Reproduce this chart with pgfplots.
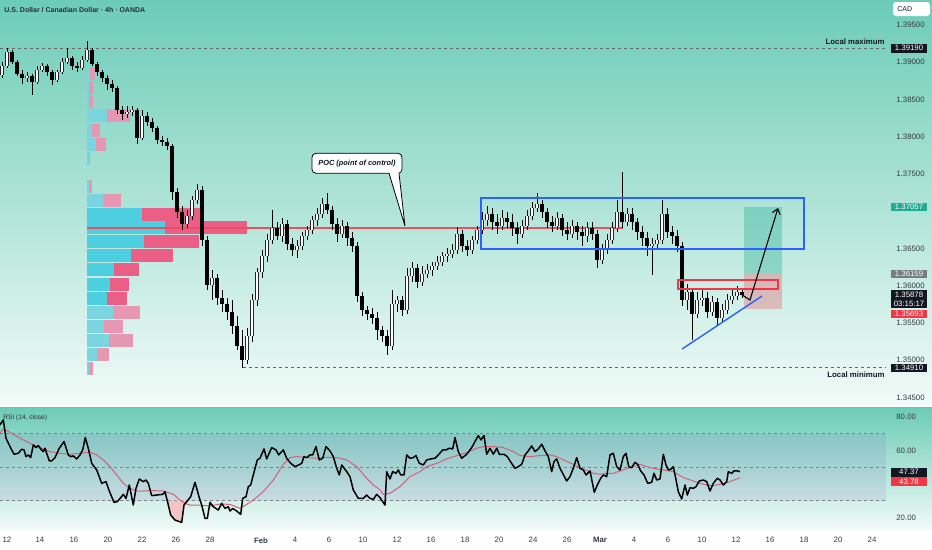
\documentclass[border=0pt]{standalone}
\usepackage{fontspec}
\setmainfont{Liberation Sans}
\usepackage{pgfplots}
\pgfplotsset{compat=1.18}
\usepackage{pgfplotstable}
\usetikzlibrary{arrows.meta}

\definecolor{bgTop}{RGB}{108,204,183}
\definecolor{bgBot}{RGB}{242,251,248}
\definecolor{cyanS}{RGB}{77,207,224}
\definecolor{pinkS}{RGB}{235,95,135}
\definecolor{cyanL}{RGB}{122,213,224}
\definecolor{pinkL}{RGB}{230,152,178}
\definecolor{pocRed}{RGB}{232,80,96}
\definecolor{tvBlue}{RGB}{41,98,255}
\definecolor{tvRed}{RGB}{242,54,69}
\definecolor{tvGreen}{RGB}{34,171,148}
\definecolor{tvGrey}{RGB}{120,123,134}
\definecolor{tvBlack}{RGB}{19,23,34}
\definecolor{maPink}{RGB}{214,96,120}
\definecolor{rsiBand}{RGB}{126,87,194}

\newcommand{\fs}{\fontsize{3.9}{4.5}\selectfont}
\pgfplotsset{nomark/.style={only marks, mark=text, text mark={}}}

% 4h USD/CAD candles: x = horizontal position of the candle, o h l c = prices
\pgfplotstableread{
x o h l c
2 1.38829 1.39004 1.38789 1.38950
7 1.38950 1.39192 1.38924 1.39138
12 1.39138 1.39165 1.38977 1.39004
17 1.39004 1.39031 1.38815 1.38842
22 1.38842 1.38896 1.38708 1.38789
27 1.38789 1.38869 1.38735 1.38815
32 1.38815 1.38842 1.38561 1.38735
37 1.38735 1.38950 1.38708 1.38896
42 1.38896 1.38991 1.38869 1.38950
47 1.38950 1.38977 1.38815 1.38869
52 1.38869 1.38896 1.38695 1.38762
57 1.38762 1.38896 1.38735 1.38869
62 1.38869 1.39058 1.38842 1.39004
67 1.39004 1.39192 1.38977 1.39058
72 1.39058 1.39084 1.38896 1.38950
77 1.38950 1.39004 1.38869 1.38924
82 1.38924 1.39084 1.38896 1.39031
87 1.39031 1.39286 1.39004 1.39165
92 1.39165 1.39192 1.38950 1.38977
97 1.38977 1.39004 1.38815 1.38869
102 1.38869 1.38896 1.38735 1.38789
107 1.38789 1.38829 1.38628 1.38708
112 1.38708 1.38762 1.38601 1.38655
117 1.38655 1.38681 1.38306 1.38360
122 1.38360 1.38413 1.38225 1.38306
127 1.38306 1.38413 1.38253 1.38333
132 1.38333 1.38413 1.38279 1.38360
137 1.38360 1.38387 1.37903 1.37984
142 1.37984 1.38360 1.37957 1.38279
147 1.38279 1.38333 1.38144 1.38198
152 1.38198 1.38253 1.38064 1.38118
157 1.38118 1.38144 1.37903 1.37957
162 1.37957 1.38010 1.37876 1.37930
167 1.37930 1.37984 1.37823 1.37876
172 1.37876 1.37903 1.37151 1.37259
177 1.37259 1.37313 1.36910 1.36990
182 1.36990 1.37070 1.36749 1.36829
187 1.36829 1.37017 1.36776 1.36936
192 1.36936 1.37205 1.36883 1.37151
197 1.37151 1.37366 1.37097 1.37286
202 1.37286 1.37339 1.36533 1.36614
207 1.36614 1.36668 1.35943 1.36011
212 1.36011 1.36212 1.35809 1.36105
217 1.36105 1.36158 1.35742 1.35836
222 1.35836 1.35943 1.35648 1.35755
227 1.35755 1.35836 1.35541 1.35648
232 1.35648 1.35809 1.35352 1.35460
237 1.35460 1.35594 1.35138 1.35191
242 1.35191 1.35406 1.34897 1.35004
247 1.35004 1.35434 1.34950 1.35325
252 1.35325 1.35889 1.35245 1.35809
257 1.35809 1.36239 1.35728 1.36185
262 1.36185 1.36480 1.36105 1.36399
267 1.36399 1.36695 1.36319 1.36614
272 1.36614 1.37017 1.36560 1.36776
277 1.36776 1.36856 1.36614 1.36668
282 1.36668 1.36910 1.36587 1.36829
287 1.36829 1.36883 1.36480 1.36560
292 1.36560 1.36642 1.36399 1.36480
297 1.36480 1.36614 1.36373 1.36533
302 1.36533 1.36722 1.36480 1.36668
307 1.36668 1.36802 1.36614 1.36749
312 1.36749 1.36936 1.36695 1.36883
317 1.36883 1.37044 1.36802 1.36963
322 1.36963 1.37179 1.36910 1.37097
327 1.37097 1.37246 1.36963 1.37017
332 1.37017 1.37070 1.36749 1.36829
337 1.36829 1.36910 1.36587 1.36695
342 1.36695 1.36883 1.36642 1.36802
347 1.36802 1.36856 1.36533 1.36642
352 1.36642 1.36722 1.36453 1.36533
357 1.36533 1.36587 1.35782 1.35862
362 1.35862 1.35916 1.35594 1.35675
367 1.35675 1.35728 1.35541 1.35621
372 1.35621 1.35702 1.35487 1.35568
377 1.35568 1.35648 1.35272 1.35406
382 1.35406 1.35460 1.35245 1.35325
387 1.35325 1.35406 1.35071 1.35191
392 1.35191 1.35943 1.35138 1.35755
397 1.35755 1.35862 1.35648 1.35809
402 1.35809 1.35862 1.35594 1.35675
407 1.35675 1.36239 1.35621 1.36131
412 1.36131 1.36319 1.36051 1.36239
417 1.36239 1.36292 1.35971 1.36051
422 1.36051 1.36265 1.35997 1.36158
427 1.36158 1.36292 1.36105 1.36212
432 1.36212 1.36319 1.36131 1.36265
437 1.36265 1.36399 1.36212 1.36319
442 1.36319 1.36453 1.36265 1.36399
447 1.36399 1.36507 1.36319 1.36426
452 1.36426 1.36560 1.36373 1.36480
457 1.36480 1.36789 1.36426 1.36695
462 1.36695 1.36749 1.36453 1.36533
467 1.36533 1.36614 1.36399 1.36480
472 1.36480 1.36668 1.36426 1.36614
477 1.36614 1.36802 1.36560 1.36749
482 1.36749 1.36990 1.36695 1.36883
487 1.36883 1.37070 1.36802 1.36963
492 1.36963 1.37044 1.36749 1.36856
497 1.36856 1.36963 1.36695 1.36802
502 1.36802 1.37017 1.36749 1.36910
507 1.36910 1.36990 1.36776 1.36856
512 1.36856 1.36963 1.36668 1.36776
517 1.36776 1.36856 1.36560 1.36695
522 1.36695 1.36883 1.36642 1.36802
527 1.36802 1.37017 1.36749 1.36936
532 1.36936 1.37124 1.36883 1.37044
537 1.37044 1.37246 1.36990 1.37097
542 1.37097 1.37151 1.36910 1.36990
547 1.36990 1.37044 1.36776 1.36856
552 1.36856 1.36936 1.36722 1.36802
557 1.36802 1.36990 1.36749 1.36910
562 1.36910 1.36963 1.36668 1.36749
567 1.36749 1.36856 1.36614 1.36695
572 1.36695 1.36883 1.36642 1.36802
577 1.36802 1.36856 1.36614 1.36722
582 1.36722 1.36802 1.36533 1.36668
587 1.36668 1.36856 1.36587 1.36776
592 1.36776 1.36856 1.36614 1.36695
597 1.36695 1.36749 1.36239 1.36346
602 1.36346 1.36560 1.36292 1.36480
607 1.36480 1.36695 1.36426 1.36614
612 1.36614 1.36856 1.36560 1.36776
617 1.36776 1.37151 1.36722 1.36990
622 1.36990 1.37527 1.36776 1.36856
627 1.36856 1.37044 1.36802 1.36963
632 1.36963 1.37044 1.36749 1.36856
637 1.36856 1.36910 1.36614 1.36722
642 1.36722 1.36802 1.36533 1.36642
647 1.36642 1.36722 1.36399 1.36533
652 1.36533 1.36642 1.36145 1.36560
657 1.36560 1.36695 1.36480 1.36614
662 1.36614 1.37151 1.36560 1.36963
667 1.36963 1.37044 1.36642 1.36722
672 1.36722 1.36802 1.36560 1.36668
677 1.36668 1.36749 1.36453 1.36533
682 1.36533 1.36587 1.35728 1.35809
687 1.35809 1.36024 1.35675 1.35916
692 1.35916 1.35971 1.35272 1.35621
697 1.35621 1.35916 1.35568 1.35809
702 1.35809 1.35943 1.35728 1.35836
707 1.35836 1.35916 1.35568 1.35648
712 1.35648 1.35862 1.35594 1.35782
717 1.35782 1.35836 1.35460 1.35568
722 1.35568 1.35755 1.35514 1.35675
727 1.35675 1.35889 1.35621 1.35809
732 1.35809 1.35971 1.35755 1.35862
737 1.35862 1.35997 1.35809 1.35916
742 1.35916 1.35943 1.35836 1.35878
}\candles

% volume profile: price row, end of the cyan part, end of the pink part
\pgfplotstableread{
y c p
1.36963 142 200
1.36776 165 247
1.36588 144 199
1.36400 131 173
1.36212 114 139
1.36024 110 129
1.35836 107 127
}\profStrong

\pgfplotstableread{
y c p
1.38843 90 95
1.38655 89 93
1.38467 89 93
1.38279 107 130
1.38091 92 100
1.37903 96 106
1.37715 88 90
1.37339 88 92
1.37151 103 121
1.35648 113 140
1.35460 104 123
1.35272 109 133
1.35084 97 109
1.34896 89 93
}\profLight

\begin{document}
\begin{tikzpicture}
\useasboundingbox (0,0) rectangle (466pt,-275pt);
\fill[white] (0,0) rectangle (466pt,-275pt);
\shade[top color=bgTop, bottom color=bgBot] (0,0) rectangle (466pt,-202.5pt);
\shade[top color=bgTop, bottom color=bgBot] (0,-204pt) rectangle (466pt,-265pt);
\draw[black!35, line width=0.5pt] (0,-203.8pt) -- (466pt,-203.8pt);

%================ main price panel ================
\begin{axis}[
  at={(0pt,0pt)}, anchor=north west,
  width=443pt, height=202.5pt, scale only axis,
  xmin=0, xmax=886, ymin=1.34400, ymax=1.39836,
  clip=false,
  axis line style={draw=none}, tick style={draw=none}, major tick length=0pt,
  xtick=\empty,
  ytick={1.345,1.350,1.355,1.360,1.365,1.375,1.380,1.385,1.390,1.395},
  scaled y ticks=false,
  yticklabel pos=right,
  yticklabel style={/pgf/number format/fixed, /pgf/number format/fixed zerofill,
    /pgf/number format/precision=5, /pgf/number format/assume math mode=true,
    font=\fs, text=tvBlack!85, anchor=west, inner sep=0pt, xshift=5pt},
]
% local max / min
\draw[black!60, line width=0.45pt, dash pattern=on 1.5pt off 1.5pt] (axis cs:0,1.39190) -- (axis cs:886,1.39190);
\draw[black!60, line width=0.45pt, dash pattern=on 1.5pt off 1.5pt] (axis cs:243,1.34910) -- (axis cs:886,1.34910);

% volume profile
\addplot[nomark, error bars/.cd, x dir=both, x explicit, error mark=none,
  error bar style={line width=6.5pt, pinkL}]
  table[x expr={(87+\thisrow{p})/2}, y=y, x error expr={(\thisrow{p}-87)/2}] {\profLight};
\addplot[nomark, error bars/.cd, x dir=both, x explicit, error mark=none,
  error bar style={line width=6.5pt, cyanL}]
  table[x expr={(87+\thisrow{c})/2}, y=y, x error expr={(\thisrow{c}-87)/2}] {\profLight};
\addplot[nomark, error bars/.cd, x dir=both, x explicit, error mark=none,
  error bar style={line width=6.5pt, pinkS}]
  table[x expr={(87+\thisrow{p})/2}, y=y, x error expr={(\thisrow{p}-87)/2}] {\profStrong};
\addplot[nomark, error bars/.cd, x dir=both, x explicit, error mark=none,
  error bar style={line width=6.5pt, cyanS}]
  table[x expr={(87+\thisrow{c})/2}, y=y, x error expr={(\thisrow{c}-87)/2}] {\profStrong};

% POC line
\draw[pocRed, line width=0.6pt] (axis cs:87,1.36776) -- (axis cs:623,1.36776);

% trade zones
\fill[tvGreen, opacity=0.35] (axis cs:744,1.37057) rectangle (axis cs:782,1.36159);
\fill[tvRed, opacity=0.28] (axis cs:744,1.36159) rectangle (axis cs:782,1.35693);

% wicks
\addplot[nomark, error bars/.cd, y dir=both, y explicit, error mark=none,
  error bar style={line width=0.4pt, black}]
  table[x=x, y expr={(\thisrow{h}+\thisrow{l})/2}, y error expr={(\thisrow{h}-\thisrow{l})/2}] {\candles};
% up bodies (outline + white)
\addplot[nomark, restrict expr to domain={\thisrow{c}-\thisrow{o}}{0:1},
  error bars/.cd, y dir=both, y explicit, error mark=none,
  error bar style={line width=1.7pt, black!85}]
  table[x=x, y expr={(\thisrow{o}+\thisrow{c})/2}, y error expr={abs(\thisrow{c}-\thisrow{o})/2+0.00004}] {\candles};
\addplot[nomark, restrict expr to domain={\thisrow{c}-\thisrow{o}}{0:1},
  error bars/.cd, y dir=both, y explicit, error mark=none,
  error bar style={line width=1.1pt, white}]
  table[x=x, y expr={(\thisrow{o}+\thisrow{c})/2}, y error expr={max(abs(\thisrow{c}-\thisrow{o})/2-0.00001,0)}] {\candles};
% down bodies
\addplot[nomark, restrict expr to domain={\thisrow{o}-\thisrow{c}}{0.0000001:1},
  error bars/.cd, y dir=both, y explicit, error mark=none,
  error bar style={line width=1.7pt, black}]
  table[x=x, y expr={(\thisrow{o}+\thisrow{c})/2}, y error expr={abs(\thisrow{c}-\thisrow{o})/2+0.00002}] {\candles};

% annotations
\draw[tvBlue, line width=1pt] (axis cs:481,1.37178) rectangle (axis cs:804,1.36490);
\draw[tvRed, line width=0.9pt] (axis cs:678,1.36078) rectangle (axis cs:778,1.35957);
\draw[tvBlue, line width=0.7pt] (axis cs:682,1.35151) -- (axis cs:762,1.35863);
\draw[black, line width=0.55pt, -{Straight Barb[length=2.5pt,width=4pt]}]
  (axis cs:742,1.35878) -- (axis cs:750,1.35809) -- (axis cs:778,1.37044);

% POC callout
\draw[black, line width=0.4pt, fill=white, rounded corners=2pt] (axis cs:312,1.37778) rectangle (axis cs:402,1.37510);
\fill[white] (axis cs:389,1.37530) -- (axis cs:405,1.36802) -- (axis cs:399,1.37530) -- cycle;
\draw[black, line width=0.4pt] (axis cs:389,1.37510) -- (axis cs:405,1.36802) -- (axis cs:399,1.37510);
\node[font=\fontsize{3.7}{4.3}\selectfont\bfseries\itshape, text=tvBlack] at (axis cs:357,1.37644) {POC (point of control)};

% texts
\node[anchor=west, font=\fontsize{3.5}{4.1}\selectfont\bfseries, text=tvBlack!90, inner sep=0pt] at (axis cs:4,1.39702) {U.S. Dollar / Canadian Dollar · 4h · OANDA};
\node[anchor=east, font=\fs\bfseries, text=tvBlack, inner sep=0pt] at (axis cs:885,1.39276) {Local maximum};
\node[anchor=east, font=\fs\bfseries, text=tvBlack, inner sep=0pt] at (axis cs:885,1.34802) {Local minimum};

% price scale labels
\node[fill=white, rounded corners=1.5pt, minimum width=18.5pt, minimum height=7pt, inner sep=0pt] at (axis cs:911.5,1.39715) {};
\node[anchor=west, font=\fontsize{3.5}{4}\selectfont, text=tvBlack, inner sep=0pt] at (axis cs:897,1.39715) {CAD};
\node[fill=tvBlack, text=white, font=\fs, minimum width=18pt, minimum height=4.4pt, inner sep=0pt] at (axis cs:909,1.39190) {1.39190};
\node[fill=tvGreen, text=white, font=\fs, minimum width=18pt, minimum height=4.4pt, inner sep=0pt] at (axis cs:909,1.37057) {1.37057};
\node[fill=tvGrey, text=white, font=\fs, minimum width=18pt, minimum height=4.4pt, inner sep=0pt] at (axis cs:909,1.36159) {1.36159};
\node[fill=tvBlack, text=white, font=\fs, align=center, minimum width=18pt, minimum height=9pt, inner sep=0pt] at (axis cs:909,1.35823) {1.35878\\03:15:17};
\node[fill=tvRed, text=white, font=\fs, minimum width=18pt, minimum height=4.4pt, inner sep=0pt] at (axis cs:909,1.35621) {1.35693};
\node[fill=tvBlack, text=white, font=\fs, minimum width=18pt, minimum height=4.4pt, inner sep=0pt] at (axis cs:909,1.34896) {1.34910};
\end{axis}

%================ RSI panel ================
\begin{axis}[
  at={(0pt,-204pt)}, anchor=north west,
  width=443pt, height=61pt, scale only axis,
  xmin=0, xmax=886, ymin=12.46, ymax=85.5,
  clip=false,
  axis line style={draw=none}, tick style={draw=none}, major tick length=0pt,
  ytick={20,60,80},
  yticklabel pos=right,
  yticklabel style={/pgf/number format/fixed, /pgf/number format/fixed zerofill,
    /pgf/number format/precision=2, /pgf/number format/assume math mode=true,
    font=\fs, text=tvBlack!85, anchor=west, inner sep=0pt, xshift=5pt},
  xtick={7,40,74,108,142,176,210,261,295,329,363,397,431,465,499,533,567,600,634,668,702,736,770,804,838,872},
  xticklabels={12,14,16,20,22,26,28,\textbf{Feb},4,6,10,12,16,18,20,24,26,\textbf{Mar},4,6,10,12,16,18,20,24},
  xticklabel style={font=\fs, text=tvBlack!85, inner sep=0pt, anchor=north, yshift=-3.5pt},
]
\fill[rsiBand, opacity=0.12] (axis cs:0,30) rectangle (axis cs:886,70);
\draw[black!50, line width=0.4pt, dash pattern=on 1.5pt off 1.5pt] (axis cs:0,70) -- (axis cs:886,70);
\draw[black!50, line width=0.4pt, dash pattern=on 1.5pt off 1.5pt] (axis cs:0,50) -- (axis cs:886,50);
\draw[black!50, line width=0.4pt, dash pattern=on 1.5pt off 1.5pt] (axis cs:0,30) -- (axis cs:886,30);
\addplot[fill=tvRed!35, draw=none, fill opacity=0.8] coordinates {(166.5,30) (168.3,27.4) (170.7,21.4) (175,18.4) (181.7,17) (184,27.4) (185.3,30)};
\addplot[maPink, line width=0.5pt] coordinates {
(0,70.4) (3.3,73) (10,71) (20,67.4) (30,64.4) (40,61.8) (50,59.4) (60,58.4) (70,57.8) (80,58.4) (90,59) (96.7,57.4) (103.3,54.4) (110,50.4) (116.7,45.4) (123.3,40.4) (130,37.4) (136.7,35.8) (143.3,35.8) (153.3,36) (163.3,35.8) (173.3,33.8) (180,30.4) (185,28.4) (190,27.4) (200,27.4) (210,26.8) (220,28) (230,27.8) (240,25.4) (246.7,27.8) (253.3,30.4) (263.3,35.4) (273.3,42.4) (283.3,51.8) (290,55.8) (296.7,56.4) (306.7,55.8) (316.7,55.4) (326.7,56) (336.7,55.8) (346.7,54.4) (356.7,50.4) (366.7,43.4) (373.3,39.4) (380,36.5) (383.3,33.8) (390,34.4) (400,38.4) (410,44.4) (420,47.4) (426.7,50.4) (436.7,52.4) (446.7,55) (456.7,57) (466.7,58.8) (476.7,61.4) (483.3,62.4) (493.3,62.4) (503.3,61.8) (513.3,59.4) (520,57) (530,56.4) (540,57) (550,57.4) (556.7,56.4) (563.3,54.4) (573.3,51.8) (583.3,49) (593.3,46.4) (600,45.8) (606.7,46.4) (613.3,46.4) (620,47.8) (630,49.8) (640,51.8) (646.7,50.4) (653.3,49.4) (663.3,48.4) (673.3,47.4) (683.3,43.8) (693.3,41.8) (700,40.4) (706.7,39.4) (713.3,39) (720,39.8) (730,41.4) (740,43.8)};
\addplot[black, line width=0.75pt, line join=round] coordinates {
(0,75.4) (3.3,78.4) (6,67.4) (10,62.4) (14,57.8) (18.3,58.4) (21.7,60.8) (24,60.4) (26,56.4) (28.3,57.4) (30.7,55.8) (33.3,63.4) (36,61.8) (38.3,63) (40.7,61) (43.3,59.4) (45,61.4) (46.7,58.4) (49.3,53.8) (51.7,53.8) (55,55.8) (59.3,61.4) (64,65.4) (66.7,60.4) (68.3,57.4) (70.7,56.4) (73.3,56.8) (76.7,55) (80,57.4) (82.7,60.4) (85.3,67.8) (88.3,61.4) (91.7,52.4) (96.7,48.4) (101.7,40.4) (106,41.4) (109.3,35.8) (114,29) (117.3,29.4) (120.7,31.8) (123.3,33.8) (126,31.4) (129.3,39.4) (133.3,27.4) (136,37.4) (139.3,43) (143.3,41.4) (146,42.4) (148.3,40.4) (151.7,33) (156.7,33.4) (162.7,33.8) (165,35.4) (168.3,27.4) (170.7,21.4) (175,18.4) (181.7,17) (184,27.4) (186.7,29.4) (190.7,32.4) (195,41) (199,32.4) (201.7,27.4) (205,19.4) (207.3,19.4) (210,29) (213.3,26.4) (218.3,24.4) (221.7,28.4) (225,25.4) (228.3,26.4) (230,23.8) (232.7,25.4) (236.7,23.8) (240.7,21.8) (242.7,31.4) (246,32.4) (248.3,38.4) (250.7,39.4) (253.3,45.4) (257.3,54.4) (260,55.4) (264,61) (266.7,55) (271.7,61.8) (276,60.4) (278.7,57.4) (283.3,60.4) (286.7,55.4) (290.7,52.4) (295,50.4) (298.7,51.4) (301.7,52.4) (304,56.4) (306.7,55.8) (310,57.4) (312.7,57.4) (316,62.4) (319.3,54.4) (322.7,55.4) (326,62.4) (330,59.8) (333.3,56.4) (336.7,49.4) (339.3,45.4) (341.7,51.4) (346.7,47.4) (350,44.4) (353.3,36.4) (358.3,31.4) (363.3,31.4) (366.7,33.4) (370,31.4) (373.3,30.8) (376.7,33.8) (380,31.8) (385,27.4) (386.7,47.4) (390,43) (392.7,47.4) (396,46.4) (398.3,48.4) (400.7,45.4) (404,45.4) (406.7,57.4) (410,55.4) (413.3,55.8) (416,57) (419.3,52.4) (423.3,51.4) (426.7,54.4) (430.7,55) (435,55.4) (438.3,57.4) (442.7,60.4) (446,60.4) (449.3,61.4) (452.7,61) (455,67.8) (458.3,59.4) (461.7,55.4) (466.7,57.8) (471.7,61.8) (475,65.4) (478.3,69) (481,66.4) (484,69) (486.7,57.8) (490,61.4) (493.3,57.8) (496.7,61.4) (499.3,57.8) (504,57.8) (507.3,56.4) (510,53.8) (515,49.4) (518.3,50.4) (521.7,51.8) (525,57.4) (528.3,59.8) (531.7,62.8) (535,59.4) (538.3,61) (541.7,63.8) (545,59.8) (548.3,56.4) (551.7,47.4) (554,53.4) (556.7,55) (560,49.4) (562.7,46.4) (566.7,41.8) (570,44.4) (573.3,49.4) (576.7,55.8) (580,49.4) (583.3,48.4) (586,45.4) (590,47.8) (594.3,35) (597.3,39.4) (600.7,43.4) (603.3,45.4) (606.7,44.4) (610,57.4) (613.3,58.4) (616.7,50.4) (620,48.4) (623.3,56.4) (626,58.4) (628.7,50.4) (631.7,49.8) (635,53) (637.7,51.8) (640.7,47.8) (644,45.4) (647.7,40.4) (651.7,41) (654,46.4) (656.7,42.4) (660,43) (663.3,57.8) (666,51.4) (668.3,48.4) (670.7,48.8) (673.3,50.4) (675.7,43.4) (678.3,35.4) (681.7,31) (685,39.4) (687.3,33.4) (690,37.8) (693.3,37.4) (696,38.4) (699.3,41.8) (703.3,42.4) (706.7,41.4) (710,35.8) (713.3,40.4) (717.3,43.4) (720,42.4) (723.3,39.4) (726.7,41.4) (728.3,47.4) (731.7,46.4) (734,47.8) (737.3,47.8) (740,47.4)};
\node[anchor=west, font=\fontsize{3.3}{4}\selectfont, text=tvBlack!90, inner sep=0pt] at (axis cs:3,79.5) {RSI (14, close)};
\node[fill=tvBlack, text=white, font=\fs, minimum width=18pt, minimum height=4.4pt, inner sep=0pt] at (axis cs:909,47.1) {47.37};
\node[fill=tvRed, text=white, font=\fs, minimum width=18pt, minimum height=4.4pt, inner sep=0pt] at (axis cs:909,41.5) {43.78};
\end{axis}
\end{tikzpicture}
\end{document}
